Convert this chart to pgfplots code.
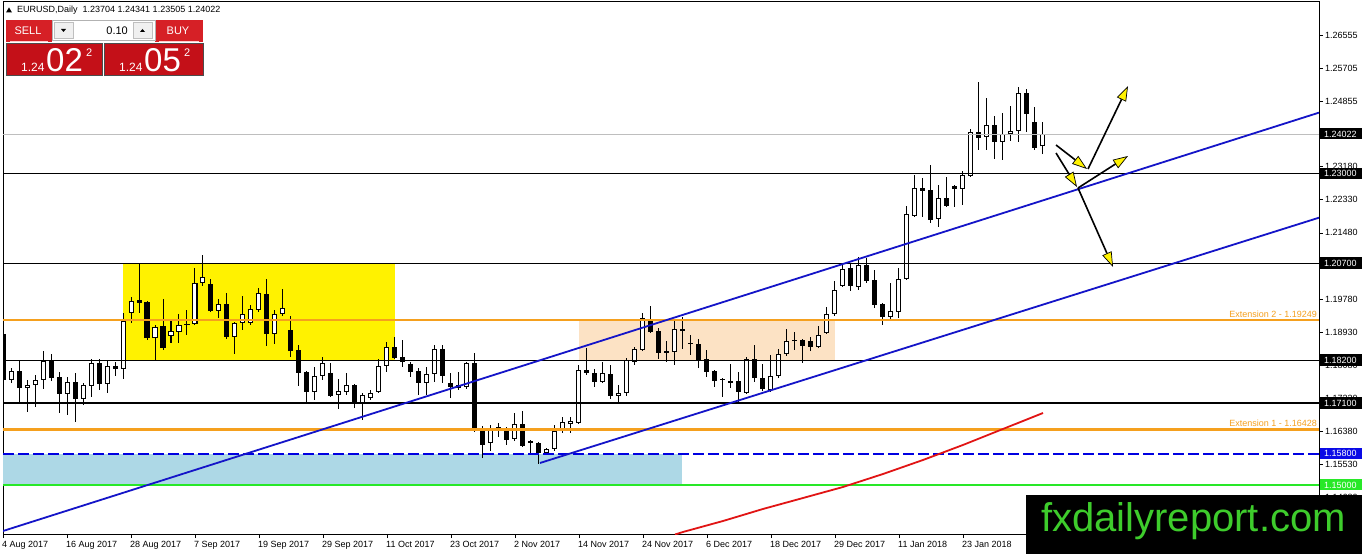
\documentclass[border=0pt]{standalone}
\usepackage{pgfplots}
\pgfplotsset{compat=1.18}
\usepackage{pgfplotstable}
\usepackage{fontspec}
\setmainfont{Liberation Sans}
\usetikzlibrary{arrows.meta}

\definecolor{orng}{RGB}{245,160,30}
\definecolor{chan}{RGB}{20,20,200}
\definecolor{grn}{RGB}{40,232,40}
\definecolor{ltblue}{RGB}{173,216,230}
\definecolor{peach}{RGB}{252,226,196}
\definecolor{mtred}{RGB}{196,16,24}
\definecolor{mtred2}{RGB}{214,32,38}
\definecolor{wm}{RGB}{62,204,44}
\definecolor{dashblue}{RGB}{0,0,225}
\definecolor{tagblue}{RGB}{10,10,230}
\definecolor{curgray}{RGB}{190,190,190}
\definecolor{mared}{RGB}{225,20,20}

\pgfplotstableread{
i o h l c
0 1.18881 1.18907 1.17262 1.17699
1 1.17699 1.18007 1.17622 1.17930
2 1.17930 1.18187 1.17134 1.17493
3 1.17493 1.17699 1.16877 1.17571
4 1.17571 1.17828 1.17005 1.17699
5 1.17699 1.18444 1.17468 1.18187
6 1.18213 1.18367 1.17673 1.17750
7 1.17776 1.17905 1.16851 1.17339
8 1.17339 1.17776 1.16800 1.17648
9 1.17648 1.17879 1.16620 1.17211
10 1.17211 1.17622 1.17057 1.17571
11 1.17545 1.18239 1.17262 1.18136
12 1.18136 1.18239 1.17442 1.17596
13 1.17596 1.18187 1.17365 1.18059
14 1.18059 1.18162 1.17802 1.17982
15 1.17982 1.19421 1.17725 1.19215
16 1.19421 1.19832 1.19164 1.19729
17 1.19755 1.20706 1.19421 1.19678
18 1.19704 1.19729 1.18727 1.18778
19 1.18778 1.19113 1.18213 1.19061
20 1.19087 1.19781 1.18470 1.18521
21 1.18830 1.19215 1.18650 1.18958
22 1.18933 1.19395 1.18650 1.19113
23 1.19138 1.19498 1.18856 1.19113
24 1.19138 1.20577 1.19113 1.20192
25 1.20192 1.20912 1.20115 1.20346
26 1.20166 1.20295 1.19447 1.19472
27 1.19472 1.19781 1.19292 1.19652
28 1.19652 1.19935 1.18753 1.18804
29 1.18804 1.19190 1.18367 1.19164
30 1.19164 1.19858 1.18984 1.19395
31 1.19164 1.19627 1.19113 1.19524
32 1.19498 1.20063 1.19447 1.19935
33 1.19909 1.20295 1.18573 1.18881
34 1.18881 1.19498 1.18624 1.19395
35 1.19395 1.20038 1.19344 1.19549
36 1.18984 1.19344 1.18290 1.18444
37 1.18470 1.18599 1.17545 1.17879
38 1.17905 1.17930 1.17134 1.17391
39 1.17391 1.18033 1.17185 1.17802
40 1.17802 1.18290 1.17699 1.18136
41 1.17879 1.18136 1.17262 1.17288
42 1.17314 1.17725 1.16954 1.17416
43 1.17391 1.17879 1.17314 1.17571
44 1.17571 1.17596 1.16979 1.17082
45 1.17108 1.17365 1.16671 1.17314
46 1.17236 1.17442 1.17185 1.17365
47 1.17391 1.18239 1.17365 1.18059
48 1.18059 1.18676 1.17905 1.18547
49 1.18547 1.18804 1.18239 1.18264
50 1.18290 1.18727 1.18033 1.18162
51 1.18110 1.18162 1.17776 1.17905
52 1.17930 1.18007 1.17314 1.17622
53 1.17622 1.18033 1.17314 1.17853
54 1.17853 1.18599 1.17648 1.18496
55 1.18496 1.18599 1.17622 1.17802
56 1.17622 1.17879 1.17236 1.17519
57 1.17493 1.17905 1.17442 1.17571
58 1.17519 1.18162 1.17468 1.18136
59 1.18136 1.18393 1.16363 1.16440
60 1.16440 1.16517 1.15694 1.16029
61 1.16080 1.16543 1.15874 1.16440
62 1.16491 1.16594 1.16234 1.16465
63 1.16414 1.16491 1.16029 1.16157
64 1.16183 1.16851 1.16131 1.16568
65 1.16568 1.16902 1.15977 1.16003
66 1.16131 1.16157 1.15797 1.16080
67 1.16080 1.16106 1.15540 1.15823
68 1.15823 1.15951 1.15772 1.15926
69 1.15926 1.16543 1.15874 1.16388
70 1.16388 1.16748 1.16337 1.16620
71 1.16568 1.16748 1.16337 1.16645
72 1.16594 1.18085 1.16568 1.17956
73 1.17956 1.18521 1.17828 1.17879
74 1.17879 1.17982 1.17519 1.17648
75 1.17648 1.18162 1.17622 1.17879
76 1.17853 1.18085 1.17211 1.17288
77 1.17288 1.17571 1.17108 1.17365
78 1.17365 1.18264 1.17288 1.18213
79 1.18162 1.18547 1.18085 1.18496
80 1.18470 1.19421 1.18444 1.19292
81 1.19215 1.19601 1.18907 1.18933
82 1.18958 1.19035 1.18239 1.18393
83 1.18393 1.18701 1.18162 1.18444
84 1.18419 1.19267 1.18085 1.19010
85 1.19010 1.19318 1.18496 1.18958
86 1.18650 1.18856 1.18342 1.18624
87 1.18624 1.18753 1.18007 1.18213
88 1.18239 1.18470 1.17776 1.17905
89 1.17930 1.17956 1.17519 1.17673
90 1.17725 1.17750 1.17262 1.17699
91 1.17622 1.18110 1.17493 1.17673
92 1.17673 1.17905 1.17134 1.17391
93 1.17365 1.18290 1.17339 1.18239
94 1.18239 1.18599 1.17648 1.17750
95 1.17750 1.18110 1.17416 1.17468
96 1.17442 1.18342 1.17391 1.17802
97 1.17802 1.18496 1.17750 1.18367
98 1.18367 1.19010 1.18316 1.18701
99 1.18727 1.18933 1.18470 1.18701
100 1.18727 1.18753 1.18136 1.18573
101 1.18701 1.18804 1.18444 1.18547
102 1.18547 1.19087 1.18521 1.18856
103 1.18907 1.19575 1.18881 1.19395
104 1.19395 1.20243 1.19344 1.20012
105 1.20115 1.20706 1.20089 1.20552
106 1.20577 1.20680 1.19986 1.20115
107 1.20089 1.20860 1.20012 1.20655
108 1.20655 1.20834 1.20192 1.20243
109 1.20269 1.20526 1.19549 1.19627
110 1.19652 1.19678 1.19113 1.19318
111 1.19318 1.20192 1.19215 1.19472
112 1.19447 1.20577 1.19292 1.20295
113 1.20295 1.22171 1.20269 1.21965
114 1.21914 1.22968 1.21888 1.22633
115 1.22633 1.22890 1.21888 1.22556
116 1.22582 1.23225 1.21734 1.21811
117 1.21837 1.22711 1.21631 1.22376
118 1.22376 1.22916 1.22145 1.22171
119 1.22685 1.22711 1.22145 1.22608
120 1.22608 1.23070 1.22197 1.22968
121 1.22942 1.24150 1.22916 1.24073
122 1.24073 1.25358 1.23610 1.23918
123 1.23944 1.24946 1.23610 1.24253
124 1.24253 1.24484 1.23379 1.23816
125 1.23816 1.24561 1.23353 1.24021
126 1.24021 1.24741 1.23841 1.24098
127 1.24098 1.25229 1.23816 1.25075
128 1.25075 1.25178 1.24073 1.24535
129 1.24330 1.24715 1.23610 1.23661
130 1.23704 1.24341 1.23505 1.24022
}\candles

\pgfplotstableread{
i v
84 1.13728
85 1.13793
90 1.14075
95 1.14384
100 1.14666
105 1.14949
110 1.15283
115 1.15643
120 1.16029
125 1.16440
130 1.16851
}\ma

\begin{document}
\begin{tikzpicture}
\useasboundingbox (0,0) rectangle (1362pt,554pt);
\fill[white] (0,0) rectangle (1362pt,554pt);
\begin{axis}[
  at={(3pt,20pt)}, anchor=south west,
  scale only axis, width=1316pt, height=533pt,
  xmin=0, xmax=164.5, ymin=1.13741, ymax=1.27439,
  axis line style={black, line width=0.8pt},
  xtick={0,8,...,120},
  xticklabels={4 Aug 2017,16 Aug 2017,28 Aug 2017,7 Sep 2017,19 Sep 2017,29 Sep 2017,11 Oct 2017,23 Oct 2017,2 Nov 2017,14 Nov 2017,24 Nov 2017,6 Dec 2017,18 Dec 2017,29 Dec 2017,11 Jan 2018,23 Jan 2018},
  ytick={1.26555,1.25705,1.24855,1.23180,1.22330,1.21480,1.20630,1.19780,1.18930,1.18080,1.17230,1.16380,1.15530,1.14680},
  yticklabels={1.26555,1.25705,1.24855,1.23180,1.22330,1.21480,1.20630,1.19780,1.18930,1.18080,1.17230,1.16380,1.15530,1.14680},
  xtick pos=left, ytick pos=right, yticklabel pos=right,
  tick align=outside, major tick length=4pt,
  tick style={black, line width=0.6pt},
  minor tick num=0,
  ticklabel style={font=\fontsize{9}{10}\selectfont, inner sep=0pt},
  xticklabel style={anchor=north west, xshift=-1pt, yshift=-3pt},
  yticklabel style={anchor=west, xshift=2pt},
  clip=true,
]
% zones
\fill[ltblue] (axis cs:0,1.150) rectangle (axis cs:84.875,1.158);
\fill[yellow] (axis cs:15,1.182) rectangle (axis cs:49,1.207);
\fill[peach] (axis cs:72,1.182) rectangle (axis cs:104,1.19249);

% candles: wicks
\addplot[draw=none, forget plot, error bars/.cd, y dir=plus, y explicit, error mark=none,
  error bar style={draw=black, line width=1pt}]
  table[x=i, y=l, y error plus expr={\thisrow{h}-\thisrow{l}}] {\candles};
% bodies (black)
\addplot[draw=none, forget plot, error bars/.cd, y dir=plus, y explicit, error mark=none,
  error bar style={draw=black, line width=5pt}]
  table[x=i, y expr={min(\thisrow{o},\thisrow{c})}, y error plus expr={abs(\thisrow{c}-\thisrow{o})}] {\candles};
% bodies (white inner of rising candles)
\addplot[draw=none, forget plot, error bars/.cd, y dir=plus, y explicit, error mark=none,
  error bar style={draw=white, line width=3pt}]
  table[x=i, y expr={\thisrow{o}+0.000257}, y error plus expr={max(\thisrow{c}-\thisrow{o}-0.000514,0)}] {\candles};

% horizontal levels
\addplot[curgray, line width=0.8pt] coordinates {(0,1.24022) (164.5,1.24022)};
\addplot[black, line width=0.9pt] coordinates {(0,1.23) (164.5,1.23)};
\addplot[black, line width=0.9pt] coordinates {(0,1.207) (164.5,1.207)};
\addplot[orng, line width=2.2pt] coordinates {(0,1.19249) (164.5,1.19249)};
\addplot[black, line width=0.9pt] coordinates {(0,1.182) (164.5,1.182)};
\addplot[black, line width=1.8pt] coordinates {(0,1.171) (164.5,1.171)};
\addplot[orng, line width=2.2pt] coordinates {(0,1.16428) (164.5,1.16428)};
\addplot[dashblue, line width=1.4pt, dash pattern=on 11pt off 4pt] coordinates {(0,1.158) (164.5,1.158)};
\addplot[grn, line width=2pt] coordinates {(0,1.150) (164.5,1.150)};

% channel lines
\addplot[chan, line width=1.8pt] coordinates {(0,1.13818) (164.5,1.24570)};
\addplot[chan, line width=1.8pt] coordinates {(67.125,1.15566) (164.5,1.21870)};

% moving average
\addplot[mared, line width=1.8pt] table[x=i, y=v] {\ma};
\end{axis}

\begin{scope}[shift={(0pt,554pt)}, x=1pt, y=-1pt]
\tikzset{lab/.style={anchor=west, text=white, inner sep=0pt, font=\fontsize{9}{10}\selectfont}}
% price tags
\foreach \yy/\tt in {134/1.24022, 173.7/1.23000, 263.2/1.20700, 360.5/1.18200, 403.3/1.17100} {
  \fill[black] (1320,{\yy-6}) rectangle (1362,{\yy+5.5});
  \node[lab] at (1324,\yy) {\tt};
}
\fill[tagblue] (1320,447.9) rectangle (1362,459.4);
\node[lab] at (1324,453.9) {1.15800};
\fill[grn] (1320,479) rectangle (1362,490.5);
\node[lab] at (1324,485) {1.15000};

% extension labels
\node[anchor=base east, text=orng, inner sep=0pt, font=\fontsize{9}{10}\selectfont] at (1317,317.5) {Extension 2 - 1.19249};
\node[anchor=base east, text=orng, inner sep=0pt, font=\fontsize{9}{10}\selectfont] at (1317,426.5) {Extension 1 - 1.16428};

% arrows
\tikzset{arr/.style={black, line width=1.6pt, -{Triangle[length=15pt, width=10pt, fill=yellow, line width=0.7pt]}}}
\draw[arr] (1056,145) -- (1087,169);
\draw[arr] (1088,169) -- (1128,86);
\draw[arr] (1056,153) -- (1077,187);
\draw[arr] (1078,188) -- (1128,156);
\draw[arr] (1078,188) -- (1113,267);

% header
\fill[black] (6,12.5) -- (12,12.5) -- (9,7.5) -- cycle;
\node[anchor=base west, inner sep=0pt, font=\fontsize{9}{10}\selectfont] at (17,13) {EURUSD,Daily\ \ 1.23704 1.24341 1.23505 1.24022};

% one-click trading panel
\fill[mtred2] (6,20) rectangle (52,42);
\fill[mtred2] (155,20) rectangle (203,42);
\draw[gray!60, fill=white] (52,20) rectangle (155,40);
\draw[gray!50, fill=gray!12] (54,22) rectangle (73,38);
\draw[gray!50, fill=gray!12] (133,22) rectangle (152,38);
\fill[black] (61,29) -- (66,29) -- (63.5,32) -- cycle;
\fill[black] (140,32) -- (145,32) -- (142.5,29) -- cycle;
\node[anchor=east, inner sep=0pt, font=\fontsize{11}{12}\selectfont] at (128,30.5) {0.10};
\node[text=white, inner sep=0pt, font=\fontsize{11}{12}\selectfont] at (28,31) {SELL};
\node[text=white, inner sep=0pt, font=\fontsize{11}{12}\selectfont] at (178,31) {BUY};
\draw[white!80!red, line width=0.6pt] (10,41.5) -- (48,41.5);
\draw[white!80!red, line width=0.6pt] (159,41.5) -- (199,41.5);
\fill[mtred] (6,43) rectangle (102,75);
\fill[mtred] (104,43) rectangle (203,75);
\draw[black!70, line width=0.5pt] (6,43) rectangle (102,75);
\draw[black!70, line width=0.5pt] (104,43) rectangle (203,75);
\node[anchor=base west, text=white, inner sep=0pt, font=\fontsize{12}{13}\selectfont] at (21,71.5) {1.24};
\node[anchor=base west, text=white, inner sep=0pt, font=\fontsize{33}{34}\selectfont] at (46,71.5) {02};
\node[anchor=base west, text=white, inner sep=0pt, font=\fontsize{11}{12}\selectfont] at (86,56.5) {2};
\node[anchor=base west, text=white, inner sep=0pt, font=\fontsize{12}{13}\selectfont] at (119,71.5) {1.24};
\node[anchor=base west, text=white, inner sep=0pt, font=\fontsize{33}{34}\selectfont] at (144,71.5) {05};
\node[anchor=base west, text=white, inner sep=0pt, font=\fontsize{11}{12}\selectfont] at (184,56.5) {2};

% watermark
\fill[black] (1026,495) rectangle (1362,554);
\node[anchor=base west, text=wm, inner sep=0pt, font=\fontsize{40}{44}\selectfont] at (1041,531) {fxdailyreport.com};
\end{scope}
\end{tikzpicture}
\end{document}
